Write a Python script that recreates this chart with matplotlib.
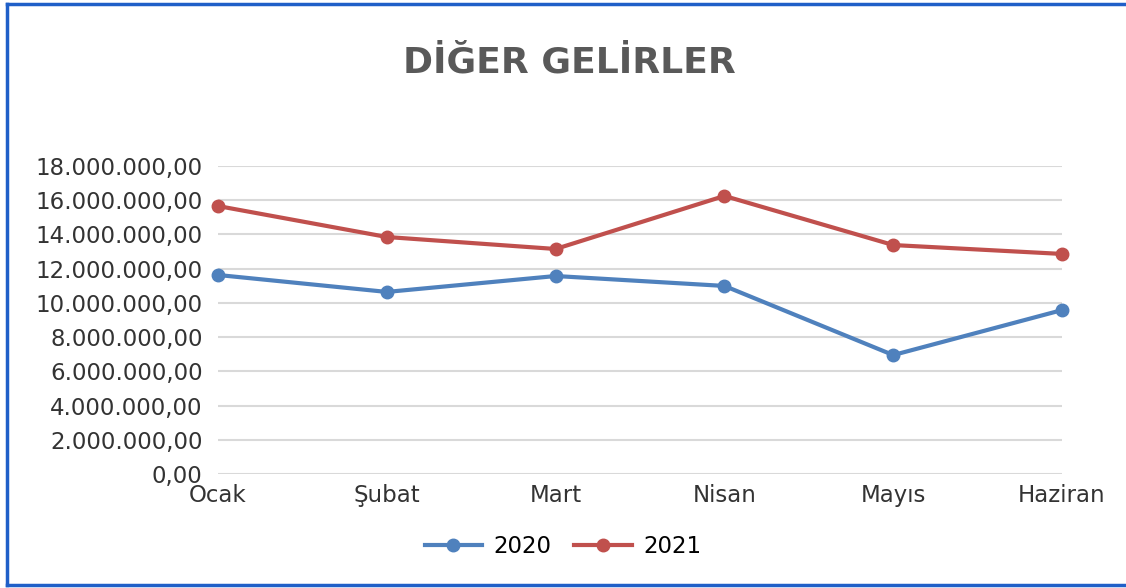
import matplotlib.pyplot as plt
from matplotlib.ticker import FuncFormatter, MultipleLocator
from matplotlib.lines import Line2D

plt.rcParams['font.family'] = ['DejaVu Sans']

months = ['Ocak', 'Şubat', 'Mart', 'Nisan', 'Mayıs', 'Haziran']
gelir_2020 = [11630000, 10640000, 11570000, 10990000, 6950000, 9580000]
gelir_2021 = [15660000, 13850000, 13150000, 16250000, 13380000, 12860000]

blue = '#4F81BD'
red = '#C0504D'


def tr_format(v, pos):
    s = '{:,.2f}'.format(v)
    return s.replace(',', 'X').replace('.', ',').replace('X', '.')


fig = plt.figure(figsize=(11.26, 5.88), dpi=100)
ax = fig.add_axes([0.1936, 0.1939, 0.7496, 0.5238])

x = list(range(len(months)))
ax.plot(x, gelir_2020, color=blue, lw=3, marker='o', ms=9, label='2020', clip_on=False, zorder=3)
ax.plot(x, gelir_2021, color=red, lw=3, marker='o', ms=9, label='2021', clip_on=False, zorder=3)

ax.set_xlim(0, 5)
ax.set_ylim(0, 18000000)
ax.yaxis.set_major_locator(MultipleLocator(2000000))
ax.yaxis.set_major_formatter(FuncFormatter(tr_format))
ax.set_xticks(x)
ax.set_xticklabels(months)
ax.tick_params(axis='y', length=0, pad=11, labelsize=16.5, labelcolor='#333333')
ax.tick_params(axis='x', length=0, pad=7, labelsize=16.5, labelcolor='#333333')
ax.grid(axis='y', color='#D9D9D9', lw=1.5)
ax.set_axisbelow(True)
for sp in ax.spines.values():
    sp.set_visible(False)

fig.text(0.506, 0.893, 'DİĞER GELİRLER', ha='center', va='center',
         fontsize=26, fontweight='bold', color='#595959')

fig.legend(handles=ax.get_lines(), loc='center', bbox_to_anchor=(0.5, 0.071),
           ncol=2, frameon=False, fontsize=16.5, handlelength=2.5,
           columnspacing=1.0, handletextpad=0.5)

# blue frame around the chart
frame = dict(color='#1F5FC8', lw=2.5, transform=fig.transFigure)
fig.add_artist(Line2D([0.006, 0.006], [0.005, 0.994], **frame))
fig.add_artist(Line2D([0.006, 1.0], [0.994, 0.994], **frame))
fig.add_artist(Line2D([0.006, 1.0], [0.005, 0.005], **frame))

fig.savefig('out.png', dpi=100)
